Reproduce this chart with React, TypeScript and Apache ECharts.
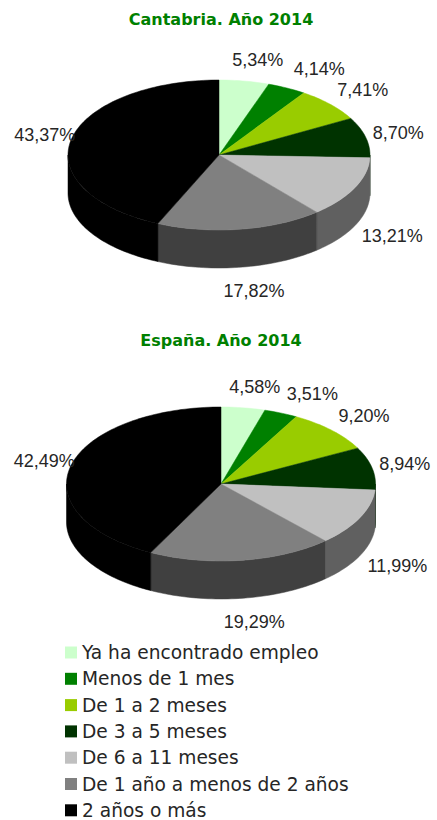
import React, { useEffect, useRef } from 'react';
import * as echarts from 'echarts';

const categories = [
  'Ya ha encontrado empleo',
  'Menos de 1 mes',
  'De 1 a 2 meses',
  'De 3 a 5 meses',
  'De 6 a 11 meses',
  'De 1 año a menos de 2 años',
  '2 años o más',
];
const cantabriaValues = [5.34, 4.14, 7.41, 8.7, 13.21, 17.82, 43.37];
const espanaValues = [4.58, 3.51, 9.2, 8.94, 11.99, 19.29, 42.49];
const titles = ['Cantabria. Año 2014', 'España. Año 2014'];
const topColors = ['#CCFFCC', '#008000', '#99CC00', '#003300', '#C0C0C0', '#808080', '#000000'];

const FONT = 'DejaVu Sans';
const LABEL_FONT = 'Liberation Sans';

function darken(hex: string, f: number) {
  const n = parseInt(hex.slice(1), 16);
  const r = Math.round(((n >> 16) & 255) * f);
  const g = Math.round(((n >> 8) & 255) * f);
  const b = Math.round((n & 255) * f);
  return `rgb(${r},${g},${b})`;
}
const sideColors = topColors.map((c) => darken(c, 0.5));

type Geo = { cx: number; cy: number; rx: number; ry: number; depth: number };

const geoms: Geo[] = [
  { cx: 219, cy: 155, rx: 151, ry: 75, depth: 38 },
  { cx: 221, cy: 484, rx: 154.5, ry: 77, depth: 38 },
];

function sliceAngles(values: number[], i: number) {
  const total = values.reduce((a, b) => a + b, 0);
  let before = 0;
  for (let k = 0; k < i; k++) before += values[k];
  const s = (before / total) * Math.PI * 2;
  const e = ((before + values[i]) / total) * Math.PI * 2;
  return [s, e];
}

function pt(g: Geo, t: number, dy = 0): number[] {
  return [g.cx + g.rx * Math.sin(t), g.cy - g.ry * Math.cos(t) + dy];
}

function arc(g: Geo, a: number, b: number, dy = 0): number[][] {
  const steps = Math.max(2, Math.ceil((b - a) / (Math.PI / 120)));
  const out: number[][] = [];
  for (let k = 0; k <= steps; k++) out.push(pt(g, a + ((b - a) * k) / steps, dy));
  return out;
}

function sideSeries(values: number[], g: Geo) {
  return {
    type: 'custom',
    coordinateSystem: 'none',
    silent: true,
    data: values,
    renderItem: (params: any) => {
      const i = params.dataIndex;
      const [s, e] = sliceAngles(values, i);
      const a = Math.max(s, Math.PI / 2);
      const b = Math.min(e, (Math.PI * 3) / 2);
      if (b <= a) return { type: 'group', children: [] };
      const top = arc(g, a, b, 0);
      const bottom = arc(g, a, b, g.depth).reverse();
      return {
        type: 'polygon',
        shape: { points: top.concat(bottom) },
        style: { fill: sideColors[i], stroke: sideColors[i], lineWidth: 0.5 },
      };
    },
  };
}

function topSeries(values: number[], g: Geo) {
  return {
    type: 'custom',
    coordinateSystem: 'none',
    silent: true,
    data: values,
    renderItem: (params: any, api: any) => {
      const i = params.dataIndex;
      const v = api.value(0);
      const [s, e] = sliceAngles(values, i);
      const pts = [[g.cx, g.cy]].concat(arc(g, s, e));
      const m = (s + e) / 2;
      const text = v.toFixed(2).replace('.', ',') + '%';
      const digits = text.length - 2;
      const tw = digits * 10 + 5 + 16;
      const sn = Math.sin(m);
      const cs = Math.cos(m);
      const edge = pt(g, m, cs < 0 ? g.depth : 0);
      const gap = sn > 0 ? 7 : -4;
      const lx = edge[0] + Math.sign(sn) * Math.min(1, 2.5 * Math.abs(sn)) * (tw / 2 + gap);
      const ly = edge[1] - cs * (cs < 0 ? 24 : 21);
      return {
        type: 'group',
        children: [
          {
            type: 'polygon',
            shape: { points: pts },
            style: { fill: topColors[i], stroke: topColors[i], lineWidth: 0.5 },
          },
          {
            type: 'text',
            style: {
              text,
              x: lx,
              y: ly,
              align: 'center',
              verticalAlign: 'middle',
              fill: '#262626',
              font: `18px "${LABEL_FONT}"`,
            },
          },
        ],
      };
    },
  };
}

export default function App() {
  const ref = useRef<HTMLDivElement>(null);
  useEffect(() => {
    document.body.style.margin = '0';
    const chart = echarts.init(ref.current!, null, { renderer: 'svg' });
    chart.setOption({
      animation: false,
      backgroundColor: '#fff',
      title: titles.map((t, k) => ({
        text: t,
        left: 221,
        top: k === 0 ? 11 : 332,
        textAlign: 'center',
        padding: 0,
        textStyle: { color: '#008000', fontFamily: FONT, fontWeight: 'bold', fontSize: 16, lineHeight: 17 },
      })),
      legend: {
        orient: 'vertical',
        left: 65,
        top: 643,
        height: 200,
        padding: 0,
        itemWidth: 12,
        itemHeight: 12,
        itemGap: 7.3,
        icon: 'rect',
        selectedMode: false,
        data: categories,
        textStyle: { fontFamily: FONT, fontSize: 18.6, lineHeight: 19, color: '#262626', padding: [0, 0, 0, 0] },
      },
      series: [
        sideSeries(cantabriaValues, geoms[0]),
        topSeries(cantabriaValues, geoms[0]),
        sideSeries(espanaValues, geoms[1]),
        topSeries(espanaValues, geoms[1]),
        {
          type: 'pie',
          silent: true,
          center: [-200, -200],
          radius: [0, 1],
          label: { show: false },
          labelLine: { show: false },
          data: categories.map((c, i) => ({
            name: c,
            value: cantabriaValues[i],
            itemStyle: { color: topColors[i] },
          })),
        },
      ],
    });
    return () => chart.dispose();
  }, []);
  return <div ref={ref} style={{ width: 437, height: 820 }} />;
}
